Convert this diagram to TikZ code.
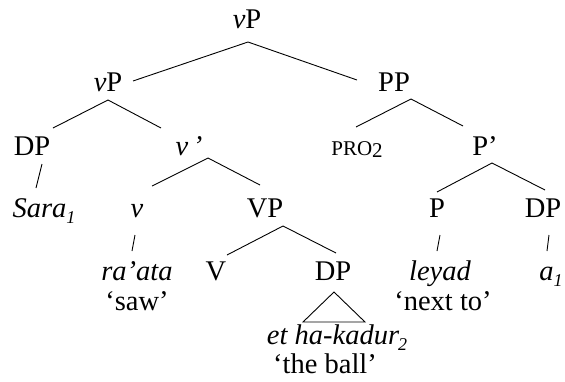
\documentclass[tikz,border=0pt]{standalone}
\usepackage{fontspec}
\setmainfont{Liberation Serif}
\newcommand{\sbs}[1]{\raisebox{-0.22em}{\fontsize{18}{18}\selectfont #1}}
\begin{document}
\begin{tikzpicture}[x=1pt,y=-1pt,
  lbl/.style={anchor=base,inner sep=0pt,font=\fontsize{28.5}{30}\selectfont},
  small/.style={anchor=base,inner sep=0pt,font=\fontsize{21}{22}\selectfont},
  br/.style={line width=0.9pt}]
\useasboundingbox (0,0) rectangle (565,381);
% nodes
\node[lbl] (top) at (247,28) {\textit{v}P};
\node[lbl] (vP1) at (108,91) {\textit{v}P};
\node[lbl] (PP) at (394,91) {PP};
\node[lbl] (DP1) at (32,155) {DP};
\node[lbl] (vbar) at (189,155) {\textit{v\,’}};
\node[small] (PRO) at (357,155) {PRO\raisebox{-0.12em}{2}};
\node[lbl] (Pbar) at (485,155) {P’};
\node[lbl] (Sara) at (44,217) {\textit{Sara\sbs{1}}};
\node[lbl] (v) at (137,217) {\textit{v}};
\node[lbl] (VP) at (265,217) {VP};
\node[lbl] (P) at (437,217) {P};
\node[lbl] (DP2) at (543,217) {DP};
\node[lbl] (raata) at (137,280) {\textit{ra’ata}};
\node[lbl] (saw) at (137,310) {‘saw’};
\node[lbl] (V) at (216,280) {V};
\node[lbl] (DP3) at (333,280) {DP};
\node[lbl] (leyad) at (440,280) {\textit{leyad}};
\node[lbl] (nextto) at (443,310) {‘next to’};
\node[lbl] (a1) at (551,280) {\textit{a\sbs{1}}};
\node[lbl] (kadur) at (337,344) {\textit{et ha-kadur\kern-1pt\sbs{2}}};
\node[lbl] (ball) at (325,373) {‘the ball’};
% joints
\coordinate (top-s) at (248,42);
\coordinate (vP1-n) at (133,81);
\coordinate (PP-n) at (357,80);
\coordinate (vP1-s) at (108,100);
\coordinate (DP1-n) at (53,128);
\coordinate (vbar-n) at (161,128);
\coordinate (vbar-s) at (208,158);
\coordinate (v-n) at (152,186);
\coordinate (VP-n) at (260,185);
\coordinate (PP-s) at (411,99);
\coordinate (PRO-n) at (356,127);
\coordinate (Pbar-n) at (463,126);
\coordinate (Pbar-s) at (492,163);
\coordinate (P-n) at (437,192);
\coordinate (DP2-n) at (545,190);
\coordinate (VP-s) at (283,226);
\coordinate (V-n) at (227,255);
\coordinate (DP3-n) at (336,253);
\coordinate (DP1-s) at (42,164);
\coordinate (Sara-n) at (36,188);
\coordinate (v-s) at (135,235);
\coordinate (raata-n) at (132,251);
\coordinate (P-s) at (440,235);
\coordinate (leyad-n) at (437,251);
\coordinate (DP2-s) at (549,235);
\coordinate (a1-n) at (547,251);
\coordinate (tri-a) at (334,292);
\coordinate (tri-l) at (303,322);
\coordinate (tri-r) at (365,322);
% branches
\draw[br] (vP1-n) -- (top-s) -- (PP-n);
\draw[br] (DP1-n) -- (vP1-s) -- (vbar-n);
\draw[br] (v-n) -- (vbar-s) -- (VP-n);
\draw[br] (PRO-n) -- (PP-s) -- (Pbar-n);
\draw[br] (P-n) -- (Pbar-s) -- (DP2-n);
\draw[br] (V-n) -- (VP-s) -- (DP3-n);
\draw[br] (DP1-s) -- (Sara-n);
\draw[br] (v-s) -- (raata-n);
\draw[br] (P-s) -- (leyad-n);
\draw[br] (DP2-s) -- (a1-n);
\draw[br,line join=miter] (tri-a) -- (tri-l) -- (tri-r) -- cycle;
\end{tikzpicture}
\end{document}
